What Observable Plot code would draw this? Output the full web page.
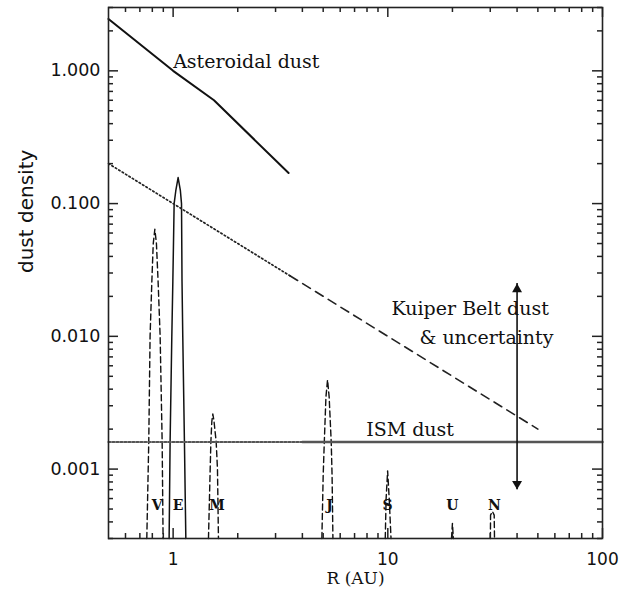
<!DOCTYPE html>
<html>
<head>
<meta charset="utf-8">
<script src="https://cdn.jsdelivr.net/npm/d3@7"></script>
<script src="https://cdn.jsdelivr.net/npm/@observablehq/plot@0.6"></script>
<style>
  html, body { margin: 0; padding: 0; background: #fff; }
</style>
</head>
<body>
<div id="chart"></div>
<script>
// ---- data (R in AU, dust density) ----
const asteroidal = [[0.5, 2.46], [1.0, 1.0], [1.55, 0.6], [3.45, 0.17]];
const kuiperDotted = [[0.5, 0.2], [3.5, 0.0286]];
const kuiperDashed = [[3.5, 0.0286], [50, 0.002]];
const ismDotted = [[0.5, 0.0016], [4, 0.0016]];
const ismSolid = [[4, 0.0016], [100, 0.0016]];
const uncertaintyR = 40;
const uncertaintyRange = [0.0007, 0.025];

const venus = [[0.754,0.0003],[0.770,0.0016],[0.781,0.01],[0.796,0.026],[0.808,0.05],[0.822,0.064],[0.836,0.05],[0.851,0.026],[0.870,0.01],[0.889,0.0016],[0.898,0.0003]];
const earth = [[0.958,0.0003],[0.968,0.0016],[0.986,0.01],[0.997,0.026],[1.011,0.1],[1.029,0.125],[1.055,0.157],[1.081,0.125],[1.094,0.1],[1.100,0.026],[1.109,0.01],[1.129,0.0016],[1.146,0.0003]];
const mars = [[1.461,0.0003],[1.488,0.001],[1.499,0.0016],[1.515,0.0023],[1.531,0.0026],[1.55,0.0023],[1.587,0.0016],[1.609,0.001],[1.626,0.0003]];
const jupiter = [[4.93,0.0003],[5.0,0.0009],[5.06,0.0016],[5.15,0.0035],[5.24,0.0047],[5.33,0.0035],[5.45,0.0016],[5.5,0.0009],[5.55,0.0003]];
const saturn = [[9.73,0.0003],[9.82,0.0006],[9.98,0.00097],[10.15,0.0006],[10.35,0.0003]];
const uranus = [[19.8,0.0003],[20.0,0.00039],[20.2,0.0003]];
const neptune = [[30.05,0.0003],[30.1,0.00045],[30.7,0.00048],[31.3,0.00045],[31.4,0.0003]];

const planetLabels = ["V", "E", "M", "J", "S", "U", "N"];
const planetLabelR = [0.842, 1.055, 1.60, 5.35, 9.98, 20.0, 31.4];
const planetLabelY = 0.00053;

const startLabels = [{R: 1.0, d: 1.175, text: "Asteroidal dust"}];
const middleLabels = [
  {R: 24.2, d: 0.0162, text: "Kuiper Belt dust"},
  {R: 28.8, d: 0.00967, text: "& uncertainty"},
  {R: 12.7, d: 0.00196, text: "ISM dust"}
];

const xMajor = [1, 10, 100];
const xMinor = [0.6, 0.7, 0.8, 0.9, 2, 3, 4, 5, 6, 7, 8, 9, 20, 30, 40, 50, 60, 70, 80, 90];
const yMajor = [0.001, 0.01, 0.1, 1];
const yMinor = [0.0003, 0.0004, 0.0005, 0.0006, 0.0007, 0.0008, 0.0009,
  0.002, 0.003, 0.004, 0.005, 0.006, 0.007, 0.008, 0.009,
  0.02, 0.03, 0.04, 0.05, 0.06, 0.07, 0.08, 0.09,
  0.2, 0.3, 0.4, 0.5, 0.6, 0.7, 0.8, 0.9, 2, 3];

// ---- layout ----
const W = 625, H = 595;
const mL = 108, mR = 23, mT = 7, mB = 57;
const innerW = W - mL - mR, innerH = H - mT - mB;
const axisColor = "#222";
const serif = "DejaVu Serif";

const px = d => d[0], py = d => d[1];
const planetDash = {x: px, y: py, stroke: "#111", strokeWidth: 1.4, strokeDasharray: "6,3.5"};
const tk = {stroke: axisColor, strokeWidth: 1.5};

const chart = Plot.plot({
  width: W, height: H,
  marginLeft: mL, marginRight: mR, marginTop: mT, marginBottom: mB,
  style: {fontFamily: "DejaVu Sans", fontSize: "17px"},
  x: {type: "log", domain: [0.5, 100]},
  y: {type: "log", domain: [0.0003, 3]},
  marks: [
    // planets' dust rings
    Plot.line(venus, planetDash),
    Plot.line(earth, {x: px, y: py, stroke: "#111", strokeWidth: 1.5}),
    Plot.line(mars, planetDash),
    Plot.line(jupiter, planetDash),
    Plot.line(saturn, planetDash),
    Plot.line(uranus, planetDash),
    Plot.line(neptune, planetDash),
    // dust components
    Plot.line(asteroidal, {x: px, y: py, stroke: "#111", strokeWidth: 2}),
    Plot.line(kuiperDotted, {x: px, y: py, stroke: "#222", strokeWidth: 1.7, strokeDasharray: "1.5,2.5"}),
    Plot.line(kuiperDashed, {x: px, y: py, stroke: "#222", strokeWidth: 1.6, strokeDasharray: "9,6"}),
    Plot.line(ismDotted, {x: px, y: py, stroke: "#555", strokeWidth: 2.2, strokeDasharray: "2,2"}),
    Plot.line(ismSolid, {x: px, y: py, stroke: "#555", strokeWidth: 2.4}),
    // uncertainty arrow
    Plot.ruleX([uncertaintyR], {x: d => d, y1: uncertaintyRange[0], y2: uncertaintyRange[1], stroke: "#111", strokeWidth: 1.6}),
    Plot.dot([uncertaintyRange[1]], {x: () => uncertaintyR, y: d => d, symbol: "triangle", r: 3.7, fill: "#111", stroke: "none", dy: 5.8}),
    Plot.dot([uncertaintyRange[0]], {x: () => uncertaintyR, y: d => d, symbol: "triangle", r: 3.7, fill: "#111", stroke: "none", rotate: 180, dy: -5.8}),
    // annotations
    Plot.text(startLabels, {x: "R", y: "d", text: "text", textAnchor: "start", fontFamily: serif, fontSize: 19, fill: "#111"}),
    Plot.text(middleLabels, {x: "R", y: "d", text: "text", textAnchor: "middle", fontFamily: serif, fontSize: 19, fill: "#111"}),
    Plot.text(planetLabels, {x: (d, i) => planetLabelR[i], y: () => planetLabelY, text: d => d, fontFamily: serif, fontWeight: "bold", fontSize: 14, fill: "#111"}),
    // inward ticks on all four sides
    Plot.ruleX(xMajor, {x: d => d, insetTop: innerH - 10, ...tk}),
    Plot.ruleX(xMajor, {x: d => d, insetBottom: innerH - 10, ...tk}),
    Plot.ruleX(xMinor, {x: d => d, insetTop: innerH - 5, ...tk}),
    Plot.ruleX(xMinor, {x: d => d, insetBottom: innerH - 5, ...tk}),
    Plot.ruleY(yMajor, {y: d => d, insetRight: innerW - 10, ...tk}),
    Plot.ruleY(yMajor, {y: d => d, insetLeft: innerW - 10, ...tk}),
    Plot.ruleY(yMinor, {y: d => d, insetRight: innerW - 5, ...tk}),
    Plot.ruleY(yMinor, {y: d => d, insetLeft: innerW - 5, ...tk}),
    // tick labels
    Plot.axisX(xMajor, {anchor: "bottom", tickFormat: d => String(d), tickSize: 0, tickPadding: 14, label: null, fontSize: 17, fill: "#111"}),
    Plot.axisY(yMajor, {anchor: "left", tickFormat: d3.format(".3f"), tickSize: 0, tickPadding: 8, label: null, fontSize: 17.5, fill: "#111"}),
    // axis titles
    Plot.text(["dust density"], {frameAnchor: "left", text: d => d, rotate: -90, dx: -82, fontSize: 20, fill: "#111"}),
    Plot.text(["R (AU)"], {frameAnchor: "bottom", text: d => d, dy: 45, fontFamily: serif, fontSize: 17, fill: "#111"}),
    Plot.frame({stroke: axisColor, strokeWidth: 1.6})
  ]
});
document.getElementById("chart").appendChild(chart);
</script>
</body>
</html>
